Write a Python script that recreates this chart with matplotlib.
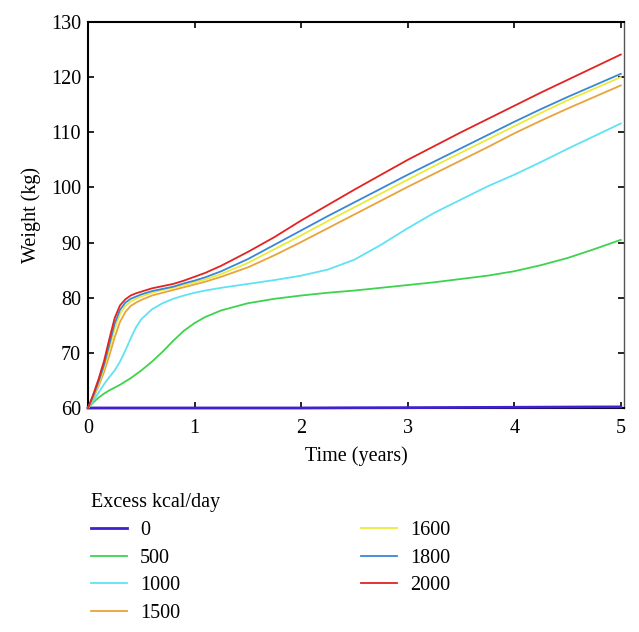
import numpy as np
import matplotlib
matplotlib.use('Agg')
import matplotlib.pyplot as plt

plt.rcParams['font.family'] = ['Liberation Serif', 'DejaVu Serif']

# time grid (years)
t = [0, 0.05, 0.1, 0.15, 0.2, 0.25, 0.3, 0.35, 0.4, 0.45, 0.5, 0.6, 0.7, 0.8, 0.9, 1.0, 1.1, 1.25,
     1.5, 1.75, 2.0, 2.25, 2.5, 2.75, 3.0, 3.25, 3.5, 3.75, 4.0, 4.25, 4.5, 4.75, 5.0]

# weight (kg) for each excess kcal/day
w_0 = [60, 60, 60, 60, 60, 60, 60, 60, 60, 60, 60, 60, 60, 60, 60, 60, 60, 60,
       60, 60, 60, 60.02, 60.04, 60.05, 60.06, 60.08, 60.1, 60.11, 60.13, 60.15, 60.17, 60.19, 60.2]
w_500 = [60, 61.0, 61.9, 62.6, 63.2, 63.7, 64.2, 64.8, 65.4, 66.1, 66.8, 68.4, 70.2, 72.2, 74.0, 75.4, 76.5, 77.7,
         79.0, 79.8, 80.4, 80.9, 81.3, 81.8, 82.3, 82.8, 83.4, 84.0, 84.8, 85.9, 87.2, 88.8, 90.5]
w_1000 = [60, 61.3, 62.8, 64.3, 65.6, 66.8, 68.4, 70.4, 72.6, 74.6, 76.1, 77.9, 79.0, 79.8, 80.4, 80.9, 81.3, 81.8,
          82.5, 83.2, 84.0, 85.1, 86.9, 89.6, 92.6, 95.4, 97.8, 100.2, 102.3, 104.6, 107.0, 109.3, 111.6]
w_1500 = [60, 61.8, 64.0, 66.5, 69.5, 72.8, 75.6, 77.4, 78.5, 79.1, 79.6, 80.4, 80.9, 81.4, 81.9, 82.4, 82.9, 83.8,
          85.5, 87.7, 90.1, 92.6, 95.1, 97.6, 100.1, 102.5, 104.9, 107.3, 109.8, 112.1, 114.3, 116.4, 118.5]
w_1600 = [60, 62.0, 64.4, 67.2, 70.6, 74.3, 77.0, 78.5, 79.3, 79.8, 80.2, 80.9, 81.4, 81.8, 82.3, 82.8, 83.3, 84.3,
          86.3, 88.8, 91.3, 93.9, 96.4, 98.9, 101.4, 103.9, 106.3, 108.7, 111.1, 113.5, 115.8, 117.9, 120.0]
w_1800 = [60, 62.2, 64.8, 67.8, 71.5, 75.3, 77.8, 79.1, 79.8, 80.2, 80.6, 81.2, 81.6, 82.0, 82.6, 83.1, 83.7, 84.8,
          87.0, 89.6, 92.2, 94.8, 97.3, 99.8, 102.3, 104.7, 107.1, 109.5, 111.9, 114.2, 116.4, 118.5, 120.6]
w_2000 = [60, 62.5, 65.3, 68.5, 72.5, 76.3, 78.6, 79.7, 80.4, 80.8, 81.1, 81.7, 82.1, 82.5, 83.1, 83.8, 84.5, 85.8,
          88.3, 91.0, 94.0, 96.8, 99.6, 102.3, 105.0, 107.5, 110.0, 112.4, 114.8, 117.2, 119.5, 121.8, 124.1]

labels = ['0', '500', '1000', '1500', '1600', '1800', '2000']
series = [w_0, w_500, w_1000, w_1500, w_1600, w_1800, w_2000]
colors = ['#4020d0', '#3ed34e', '#5fe3f2', '#e8a33a', '#eaea3c', '#3a86d9', '#e32222']

fig = plt.figure(figsize=(6.39, 6.32), dpi=100)
ax = fig.add_axes([88 / 639, 1 - 408 / 632, (624 - 88) / 639, (408 - 22) / 632])

handles = []
for w, c, lab in zip(series, colors, labels):
    lw = 2.0 if lab == '0' else 1.3
    h, = ax.plot(t, w, color=c, lw=lw, label=lab, clip_on=False, zorder=3)
    handles.append(h)

ax.set_xlim(0, 5.03)
ax.set_ylim(60, 130)
ax.set_xticks([0, 1, 2, 3, 4, 5])
ax.set_yticks(np.arange(60, 131, 10))
ax.tick_params(direction='in', length=4, width=1.2, top=True, right=True, labelsize=14.5)
ax.tick_params(axis='x', pad=8)
ax.tick_params(axis='y', pad=5)
for side in ['left', 'top', 'bottom']:
    ax.spines[side].set_linewidth(1.5)
ax.spines['right'].set_linewidth(1.0)
ax.spines['right'].set_color('#555555')

ax.set_xlabel('Time (years)', fontsize=14.5, labelpad=6)
ax.set_ylabel('Weight (kg)', fontsize=14.5, labelpad=7)

fig.legend(handles, labels, title='Excess kcal/day', loc='upper left',
           bbox_to_anchor=(73 / 639, 1 - 475 / 632), ncol=2, frameon=False,
           fontsize=14.5, title_fontsize=14.5, alignment='left',
           handlelength=1.8, handletextpad=0.62, labelspacing=0.43,
           columnspacing=9.0)

fig.savefig('out.png', dpi=100)
